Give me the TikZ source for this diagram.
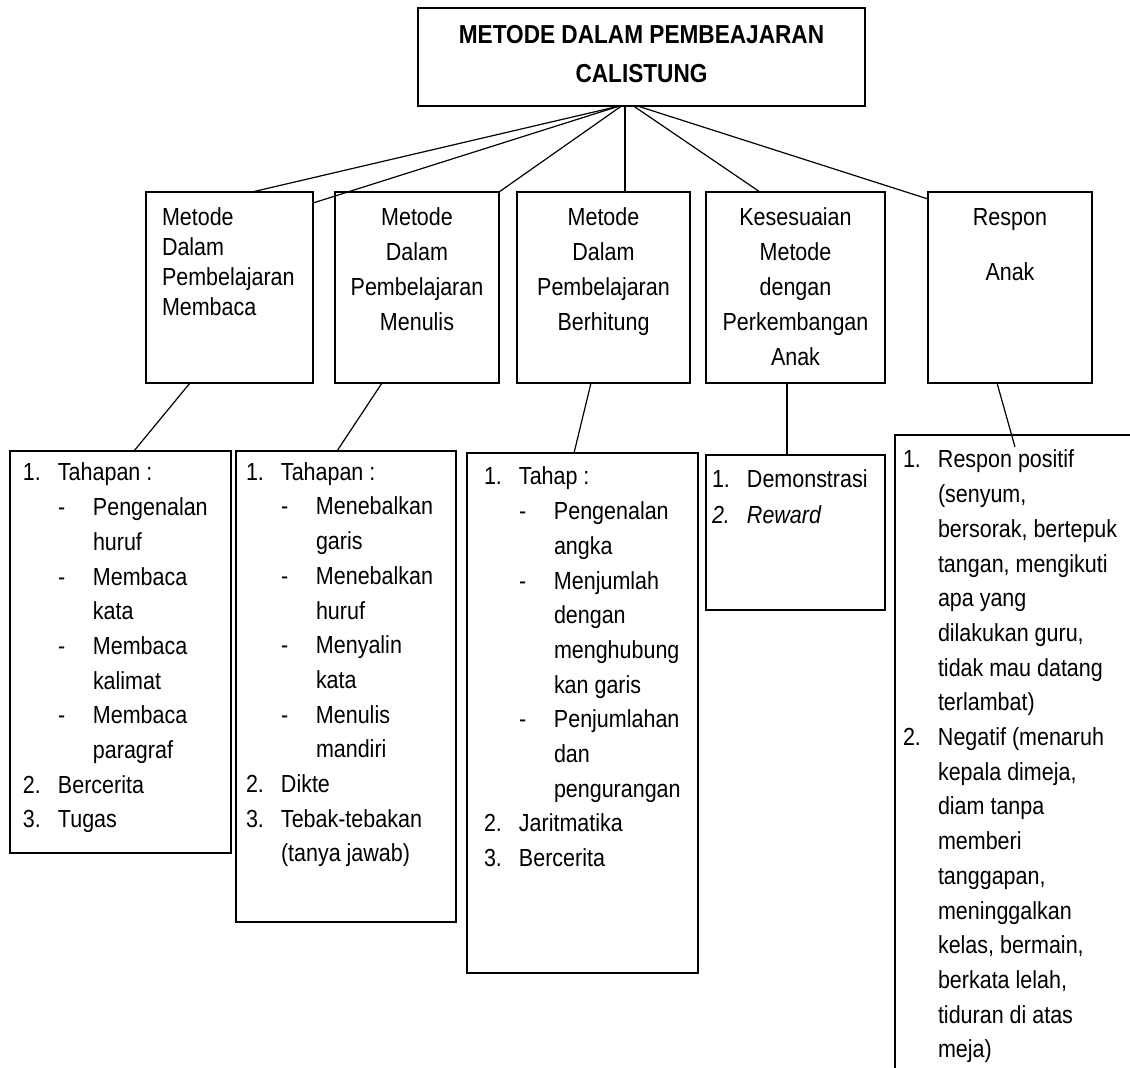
\documentclass[tikz,border=0pt]{standalone}
\usepackage{fontspec}
\setmainfont{Liberation Sans}[FakeStretch=0.87]
\usepackage{tikz}
\usetikzlibrary{positioning}

\newcommand{\boxpar}[5]{\parbox[c][#2][t]{#1}{\fontsize{24.7pt}{#3}\selectfont\vspace*{#4}#5}}
\newcommand{\listnum}[2]{\strut\makebox[35pt][l]{#1}#2}
\newcommand{\listdash}[1]{\strut\hspace*{35pt}\makebox[35pt][l]{-}#1}
\newcommand{\listsub}[1]{\strut\hspace*{70pt}#1}
\newcommand{\listcont}[1]{\strut\hspace*{35pt}#1}

\begin{document}
\begin{tikzpicture}[x=1pt, y=-1pt,
    box/.style={draw, line width=1.5pt, inner sep=0pt, outer sep=0pt, anchor=north west},
    link/.style={line width=1.2pt}]
  \useasboundingbox (0,0) rectangle (1130,1068);
  \clip (0,0) rectangle (1130,1068);

  \node[box] (judul) at (418,8) {\parbox[c][98pt][t]{447pt}{\centering\fontsize{26pt}{39pt}\bfseries\selectfont\vspace*{7.7pt}\strut METODE DALAM PEMBEAJARAN\\CALISTUNG}};

  \node[box] (mbaca) at (146,192) {\boxpar{167pt}{191pt}{30pt}{12pt}{\raggedright\leftskip=16pt\strut Metode\\Dalam\\Pembelajaran\\Membaca}};
  \node[box, right=22pt of mbaca] (mnulis) {\boxpar{164pt}{191pt}{35pt}{8.5pt}{\centering\strut Metode\\Dalam\\Pembelajaran\\Menulis}};
  \node[box, right=18pt of mnulis] (mhitung) {\boxpar{173pt}{191pt}{35pt}{8.5pt}{\centering\strut Metode\\Dalam\\Pembelajaran\\Berhitung}};
  \node[box, right=16pt of mhitung] (sesuai) {\boxpar{179pt}{191pt}{35pt}{8.5pt}{\centering\strut Kesesuaian\\Metode\\dengan\\Perkembangan\\Anak}};
  \node[box, right=43pt of sesuai] (respon) {\boxpar{164pt}{191pt}{35pt}{8.5pt}{\centering\strut Respon\\[20pt]Anak}};

  \node[box] (lbaca) at (10,451) {\boxpar{221pt}{402pt}{34.7pt}{5.7pt}{\raggedright\leftskip=13pt
    \listnum{1.}{Tahapan :}\\
    \listdash{Pengenalan}\\
    \listsub{huruf}\\
    \listdash{Membaca}\\
    \listsub{kata}\\
    \listdash{Membaca}\\
    \listsub{kalimat}\\
    \listdash{Membaca}\\
    \listsub{paragraf}\\
    \listnum{2.}{Bercerita}\\
    \listnum{3.}{Tugas}}};
  \node[box] (lnulis) at (236,451) {\boxpar{220pt}{471pt}{34.7pt}{5pt}{\raggedright\leftskip=10pt
    \listnum{1.}{Tahapan :}\\
    \listdash{Menebalkan}\\
    \listsub{garis}\\
    \listdash{Menebalkan}\\
    \listsub{huruf}\\
    \listdash{Menyalin}\\
    \listsub{kata}\\
    \listdash{Menulis}\\
    \listsub{mandiri}\\
    \listnum{2.}{Dikte}\\
    \listnum{3.}{Tebak-tebakan}\\
    \listcont{(tanya jawab)}}};
  \node[box] (lhitung) at (467,453) {\boxpar{231pt}{520pt}{34.7pt}{7.7pt}{\raggedright\leftskip=17pt
    \listnum{1.}{Tahap :}\\
    \listdash{Pengenalan}\\
    \listsub{angka}\\
    \listdash{Menjumlah}\\
    \listsub{dengan}\\
    \listsub{menghubung}\\
    \listsub{kan garis}\\
    \listdash{Penjumlahan}\\
    \listsub{dan}\\
    \listsub{pengurangan}\\
    \listnum{2.}{Jaritmatika}\\
    \listnum{3.}{Bercerita}}};
  \node[box] (lsesuai) at (706,455) {\boxpar{179pt}{155pt}{36pt}{7.5pt}{\raggedright\leftskip=6pt
    \listnum{1.}{Demonstrasi}\\
    \listnum{\textit{2.}}{\textit{Reward}}}};
  \node[box] (lrespon) at (895,435) {\boxpar{260pt}{660pt}{34.7pt}{8.7pt}{\raggedright\leftskip=8pt
    \listnum{1.}{Respon positif}\\
    \listcont{(senyum,}\\
    \listcont{bersorak, bertepuk}\\
    \listcont{tangan, mengikuti}\\
    \listcont{apa yang}\\
    \listcont{dilakukan guru,}\\
    \listcont{tidak mau datang}\\
    \listcont{terlambat)}\\
    \listnum{2.}{Negatif (menaruh}\\
    \listcont{kepala dimeja,}\\
    \listcont{diam tanpa}\\
    \listcont{memberi}\\
    \listcont{tanggapan,}\\
    \listcont{meninggalkan}\\
    \listcont{kelas, bermain,}\\
    \listcont{berkata lelah,}\\
    \listcont{tiduran di atas}\\
    \listcont{meja)}}};

  \draw[link] ([xshift=-22pt]judul.south) -- ([xshift=22.5pt]mbaca.north);
  \draw[link] ([xshift=-22pt]judul.south) -- ([yshift=-11pt]mbaca.north east);
  \draw[link] ([xshift=-20pt]judul.south) -- (mnulis.north east);
  \draw[link] ([xshift=-16.5pt]judul.south) -- ([xshift=21.5pt]mhitung.north);
  \draw[link] ([xshift=-8pt]judul.south) -- ([xshift=-35.5pt]sesuai.north);
  \draw[link] ([xshift=-4pt]judul.south) -- ([yshift=-7pt]respon.north west);

  \draw[link] ([xshift=-39.5pt]mbaca.south) -- ([xshift=13.5pt]lbaca.north);
  \draw[link] ([xshift=-35pt]mnulis.south) -- ([xshift=-9pt]lnulis.north);
  \draw[link] ([xshift=-12.5pt]mhitung.south) -- ([xshift=-8.5pt]lhitung.north);
  \draw[link] ([xshift=-8.5pt]sesuai.south) -- ([xshift=-8.5pt]lsesuai.north);
  \draw[link] ([xshift=-13pt]respon.south) -- ([shift={(120pt,-12pt)}]lrespon.north west);
\end{tikzpicture}
\end{document}
